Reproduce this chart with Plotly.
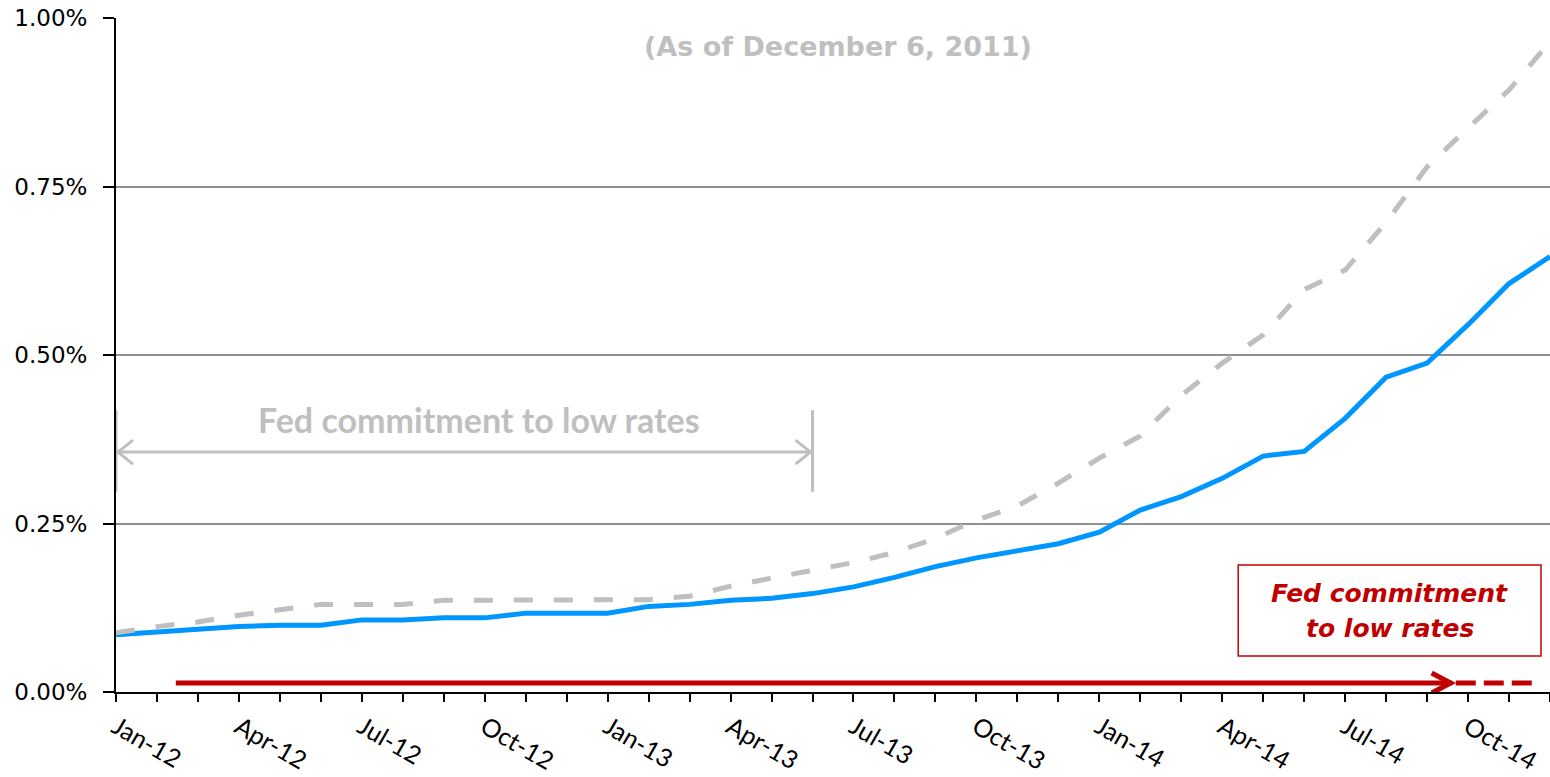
import plotly.graph_objects as go

# Monthly contract months, Jan-12 through Dec-14
months = [f"{m}-{y}" for y in ("12", "13", "14")
          for m in ("Jan", "Feb", "Mar", "Apr", "May", "Jun",
                    "Jul", "Aug", "Sep", "Oct", "Nov", "Dec")]
tick_labels = months[::3]

# Implied policy-rate path (percent)
current_path = [0.085, 0.089, 0.092, 0.097, 0.099, 0.099, 0.107, 0.107, 0.110, 0.110, 0.117, 0.117,
                0.117, 0.127, 0.130, 0.136, 0.139, 0.146, 0.156, 0.170, 0.186, 0.199, 0.210, 0.220,
                0.237, 0.270, 0.290, 0.317, 0.350, 0.357, 0.406, 0.467, 0.488, 0.545, 0.606, 0.646]
dec6_path = [0.088, 0.097, 0.104, 0.114, 0.122, 0.130, 0.130, 0.130, 0.136, 0.136, 0.136, 0.136,
             0.136, 0.137, 0.142, 0.157, 0.169, 0.181, 0.192, 0.207, 0.228, 0.255, 0.276, 0.310,
             0.347, 0.380, 0.440, 0.488, 0.530, 0.597, 0.626, 0.697, 0.779, 0.837, 0.893, 0.965]

x_idx = list(range(len(months)))

BLUE = "#0096FF"
GRAY = "#BFBFBF"
RED = "#C00000"
GRID = "#909090"

# Commitment spans (month index units) and annotation anchors
OLD_COMMIT_START, OLD_COMMIT_END, OLD_COMMIT_Y = 0, 17, 0.356
NEW_COMMIT_START, NEW_COMMIT_END, NEW_COMMIT_EXT, NEW_COMMIT_Y = 1.46, 32.6, 34.6, 0.0134
BOX_X0, BOX_X1, BOX_Y0, BOX_Y1 = 27.39, 34.78, 0.0534, 0.1884

fig = go.Figure()
fig.add_trace(go.Scatter(x=x_idx, y=current_path, mode="lines",
                         line=dict(color=BLUE, width=5), hoverinfo="skip"))
fig.add_trace(go.Scatter(x=x_idx, y=dec6_path, mode="lines",
                         line=dict(color=GRAY, width=5, dash="19px,21px"), hoverinfo="skip"))

shapes = [
    # grey bracket: earlier commitment horizon
    dict(type="line", xref="x", yref="y", x0=OLD_COMMIT_START, x1=OLD_COMMIT_END,
         y0=OLD_COMMIT_Y, y1=OLD_COMMIT_Y, line=dict(color=GRAY, width=3)),
    dict(type="line", xref="x", yref="y", x0=OLD_COMMIT_START, x1=OLD_COMMIT_START,
         y0=0.297, y1=0.418, line=dict(color=GRAY, width=3)),
    dict(type="line", xref="x", yref="y", x0=OLD_COMMIT_END, x1=OLD_COMMIT_END,
         y0=0.297, y1=0.418, line=dict(color=GRAY, width=3)),
    dict(type="path", xref="x", yref="y", xsizemode="pixel", ysizemode="pixel",
         xanchor=OLD_COMMIT_START, yanchor=OLD_COMMIT_Y,
         path="M 17,12 L 2,0 L 17,-12", line=dict(color=GRAY, width=3)),
    dict(type="path", xref="x", yref="y", xsizemode="pixel", ysizemode="pixel",
         xanchor=OLD_COMMIT_END, yanchor=OLD_COMMIT_Y,
         path="M -17,12 L -2,0 L -17,-12", line=dict(color=GRAY, width=3)),
    # red arrow: extended commitment horizon
    dict(type="line", xref="x", yref="y", x0=NEW_COMMIT_START, x1=NEW_COMMIT_END,
         y0=NEW_COMMIT_Y, y1=NEW_COMMIT_Y, line=dict(color=RED, width=5)),
    dict(type="path", xref="x", yref="y", xsizemode="pixel", ysizemode="pixel",
         xanchor=NEW_COMMIT_END, yanchor=NEW_COMMIT_Y,
         path="M -20,10 L -1,0 L -20,-10", line=dict(color=RED, width=5)),
    dict(type="line", xref="x", yref="y", x0=NEW_COMMIT_END + 0.1, x1=NEW_COMMIT_EXT,
         y0=NEW_COMMIT_Y, y1=NEW_COMMIT_Y, line=dict(color=RED, width=5, dash="20px,8px")),
    # red label box
    dict(type="rect", xref="x", yref="y", x0=BOX_X0, x1=BOX_X1, y0=BOX_Y0, y1=BOX_Y1,
         line=dict(color=RED, width=1.5), fillcolor="white", layer="below"),
]

annotations = [
    dict(text="<b>(As of December 6, 2011)</b>", x=17.62, y=0.957, xref="x", yref="y",
         showarrow=False, font=dict(family="DejaVu Sans", size=27, color=GRAY)),
    dict(text="<b>Fed commitment to low rates</b>", x=8.86, y=0.405, xref="x", yref="y",
         showarrow=False, font=dict(family="Lato", size=34, color=GRAY)),
    dict(text="<b><i>Fed commitment</i></b>", x=(BOX_X0 + BOX_X1) / 2, y=0.1467,
         xref="x", yref="y", showarrow=False,
         font=dict(family="DejaVu Sans", size=25, color=RED)),
    dict(text="<b><i>to low rates</i></b>", x=(BOX_X0 + BOX_X1) / 2, y=0.0947,
         xref="x", yref="y", showarrow=False,
         font=dict(family="DejaVu Sans", size=25, color=RED)),
]

fig.update_layout(
    width=1550, height=777,
    margin=dict(l=116, r=0, t=18, b=85, pad=0, autoexpand=False),
    paper_bgcolor="white", plot_bgcolor="white",
    showlegend=False,
    shapes=shapes,
    annotations=annotations,
    xaxis=dict(
        automargin=False,
        range=[0, len(months) - 1],
        tickmode="array", tickvals=x_idx[::3], ticktext=tick_labels,
        tickangle=30, ticks="outside", ticklen=8, tickwidth=2, tickcolor="black",
        minor=dict(tickvals=x_idx, ticks="outside", ticklen=8, tickwidth=2, tickcolor="black"),
        showgrid=False, zeroline=False,
        showline=True, linecolor="black", linewidth=2,
        tickfont=dict(family="Lato", size=25, color="black"),
        ticklabelstandoff=1,
    ),
    yaxis=dict(
        automargin=False,
        range=[0, 1.0], tick0=0, dtick=0.25,
        tickformat=".2f", ticksuffix="%",
        ticks="outside", ticklen=11, tickwidth=2, tickcolor="black",
        showgrid=True, gridcolor=GRID, gridwidth=2,
        zeroline=False, showline=True, linecolor="black", linewidth=2,
        tickfont=dict(family="DejaVu Sans", size=23, color="black"),
        ticklabelstandoff=11,
    ),
)

fig.write_html("out.html")
